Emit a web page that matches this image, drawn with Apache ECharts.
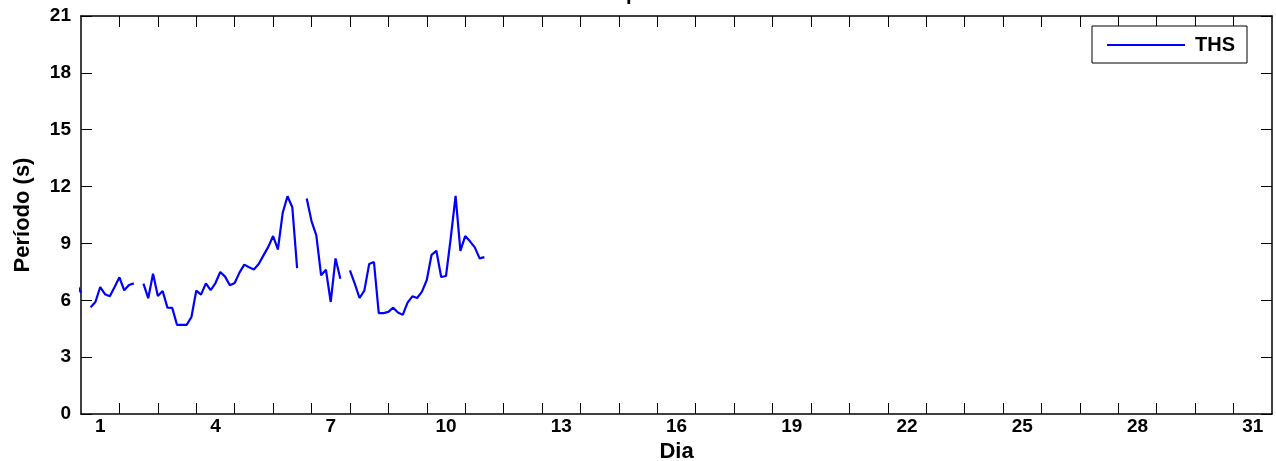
<!DOCTYPE html>
<html>
<head>
<meta charset="utf-8">
<title>Período de pico</title>
<script src="https://cdn.jsdelivr.net/npm/echarts@6/dist/echarts.min.js"></script>
<style>
  html, body { margin: 0; padding: 0; background: #ffffff; }
  #chart { width: 1276px; height: 461px; }
</style>
</head>
<body>
<div id="chart"></div>
<script>
// THS peak period, sampled every 3 hours (0.125 day), starting at day 0.375.
// null marks missing samples (gaps in the record).
const startDay = 0.375;
const stepDays = 0.125;
const thsPeriod = [
  6.9, 6.4, null,
  5.63, 5.91, 6.70, 6.32, 6.21, 6.70, 7.21, 6.53, 6.81, 6.89, null,
  6.88, 6.11, 7.40, 6.23, 6.49, 5.61, 5.60, 4.70, 4.70, 4.70, 5.12, 6.51,
  6.30, 6.89, 6.53, 6.91, 7.49, 7.25, 6.79, 6.91, 7.46, 7.88, 7.74, 7.63,
  7.91, 8.37, 8.82, 9.39, 8.68, 10.61, 11.49, 10.91, 7.70, null,
  11.37, 10.18, 9.42, 7.32, 7.61, 5.91, 8.21, 7.14, null,
  7.58, 6.88, 6.12, 6.51, 7.91, 8.02, 5.32, 5.32, 5.39, 5.61, 5.35, 5.23,
  5.88, 6.21, 6.12, 6.46, 7.07, 8.40, 8.61, 7.23, 7.28, 9.30, 11.51, 8.61,
  9.39, 9.11, 8.79, 8.21, 8.28
];

// Axis labels and ranges
const dayLabels = [1, 4, 7, 10, 13, 16, 19, 22, 25, 28, 31];
const dayMin = 0.5;
const dayMax = 31.5;
const periodTicks = [0, 3, 6, 9, 12, 15, 18, 21];
const seriesName = 'THS';
const titleText = 'Período de pico';
const xName = 'Dia';
const yName = 'Período (s)';

// Tick marks sit on the day boundaries (half-day positions)
const dayBoundaries = [];
for (let d = 1; d <= 30; d++) dayBoundaries.push(d + 0.5);

const points = thsPeriod.map((v, i) => [startDay + i * stepDays, v === null ? '-' : v]);

const FONT = "'Liberation Sans', Arial, Helvetica, sans-serif";
const tickStyle = { color: '#000', width: 1 };
const lineStyle = { color: '#000', width: 1.5 };
const BLUE = '#0000ff';

const chart = echarts.init(document.getElementById('chart'), null, { renderer: 'canvas' });

chart.setOption({
  animation: false,
  backgroundColor: '#ffffff',
  title: {
    text: titleText,
    left: 517,
    top: -16,
    padding: 0,
    textStyle: { fontFamily: FONT, fontSize: 20, fontWeight: 'bold', color: '#000' }
  },
  legend: {
    data: [{ name: seriesName, icon: 'rect' }],
    right: 29,
    top: 26,
    orient: 'vertical',
    backgroundColor: '#ffffff',
    borderColor: '#000',
    borderWidth: 1,
    borderRadius: 0,
    padding: [9, 12, 8, 15],
    itemWidth: 78,
    itemHeight: 2,
    itemGap: 0,
    itemStyle: { color: BLUE, borderWidth: 0 },
    textStyle: {
      fontFamily: FONT, fontSize: 20, fontWeight: 'bold', color: '#000',
      lineHeight: 20, padding: [0, 0, 0, 5]
    }
  },
  grid: {
    left: 81,
    right: 4,
    top: 16,
    bottom: 47,
    containLabel: false,
    outerBoundsMode: 'none',
    show: true,
    borderColor: '#000',
    borderWidth: 0,
    backgroundColor: '#ffffff'
  },
  xAxis: [
    {
      type: 'value',
      position: 'bottom',
      min: dayMin,
      max: dayMax,
      name: xName,
      nameLocation: 'middle',
      nameGap: 19,
      nameTextStyle: { fontFamily: FONT, fontSize: 22, fontWeight: 'bold', color: '#000' },
      axisLine: { show: true, onZero: false, lineStyle: lineStyle },
      axisTick: { show: true, inside: true, length: 11, lineStyle: tickStyle, customValues: dayBoundaries },
      axisLabel: {
        show: true,
        customValues: dayLabels,
        margin: 3,
        fontFamily: FONT, fontSize: 19, fontWeight: 'bold', color: '#000'
      },
      splitLine: { show: false }
    },
    {
      type: 'value',
      position: 'top',
      min: dayMin,
      max: dayMax,
      axisLine: { show: true, onZero: false, lineStyle: lineStyle },
      axisTick: { show: true, inside: true, length: 11, lineStyle: tickStyle, customValues: dayBoundaries },
      axisLabel: { show: false },
      splitLine: { show: false }
    }
  ],
  yAxis: [
    {
      type: 'value',
      position: 'left',
      min: periodTicks[0],
      max: periodTicks[periodTicks.length - 1],
      interval: periodTicks[1] - periodTicks[0],
      name: yName,
      nameLocation: 'middle',
      nameGap: 47,
      nameTextStyle: { fontFamily: FONT, fontSize: 22, fontWeight: 'bold', color: '#000' },
      axisLine: { show: true, onZero: false, lineStyle: lineStyle },
      axisTick: { show: true, inside: true, length: 11, lineStyle: tickStyle },
      axisLabel: { margin: 10, fontFamily: FONT, fontSize: 19, fontWeight: 'bold', color: '#000' },
      splitLine: { show: false }
    },
    {
      type: 'value',
      position: 'right',
      min: periodTicks[0],
      max: periodTicks[periodTicks.length - 1],
      interval: periodTicks[1] - periodTicks[0],
      axisLine: { show: true, onZero: false, lineStyle: lineStyle },
      axisTick: { show: true, inside: true, length: 11, lineStyle: tickStyle },
      axisLabel: { show: false },
      splitLine: { show: false }
    }
  ],
  series: [
    {
      name: seriesName,
      type: 'line',
      xAxisIndex: 0,
      yAxisIndex: 0,
      data: points,
      symbol: 'none',
      showSymbol: false,
      connectNulls: false,
      clip: true,
      lineStyle: { color: BLUE, width: 2.2 },
      itemStyle: { color: BLUE }
    }
  ]
});
</script>
</body>
</html>
